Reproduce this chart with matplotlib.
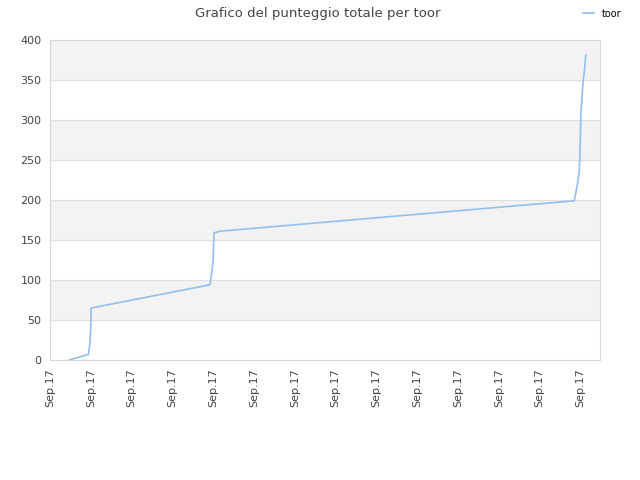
import matplotlib
matplotlib.use('Agg')
import matplotlib.pyplot as plt

# punti della serie (x in unità di tick, y = punteggio totale)
x_vals = [0.47, 0.94, 0.98, 1.00, 1.01, 3.92, 3.95, 3.97, 4.00, 4.02, 4.17,
          12.85, 12.89, 12.93, 12.97, 12.99, 13.01, 13.05, 13.07, 13.10, 13.13]
y_vals = [0, 7, 21, 42, 65, 94, 104, 112, 125, 159, 161,
          199, 210, 221, 235, 260, 306, 337, 350, 362, 381]
tick_labels = ['Sep.17'] * 14
y_ticks = [0, 50, 100, 150, 200, 250, 300, 350, 400]

fig = plt.figure(figsize=(6.4, 4.8), dpi=100)
ax = fig.add_axes([50/640, 1 - 360/480, 550/640, 320/480])

# bande alternate
for lo in range(50, 400, 100):
    ax.axhspan(lo, lo + 50, color='#f3f3f3', zorder=0)
for t in y_ticks:
    ax.axhline(t, color='#e0e0e0', lw=0.8, zorder=1)

ax.plot(x_vals, y_vals, color='#90c0f0', lw=1.2, label='toor', zorder=3)

ax.set_xlim(0, 13.48)
ax.set_ylim(0, 400)
ax.set_yticks(y_ticks)
ax.set_xticks(range(len(tick_labels)))
ax.set_xticklabels(tick_labels, rotation=90)
ax.tick_params(axis='both', length=0, labelsize=8, colors='#444444', pad=6)
for s in ax.spines.values():
    s.set_color('#d8d8d8')

fig.suptitle('Grafico del punteggio totale per toor', x=0.497, y=0.985,
             fontsize=9.5, color='#444444')
fig.legend(loc='upper right', bbox_to_anchor=(0.985, 1.0), frameon=False,
           fontsize=7, handlelength=1.2)

fig.savefig('out.png', dpi=100)
